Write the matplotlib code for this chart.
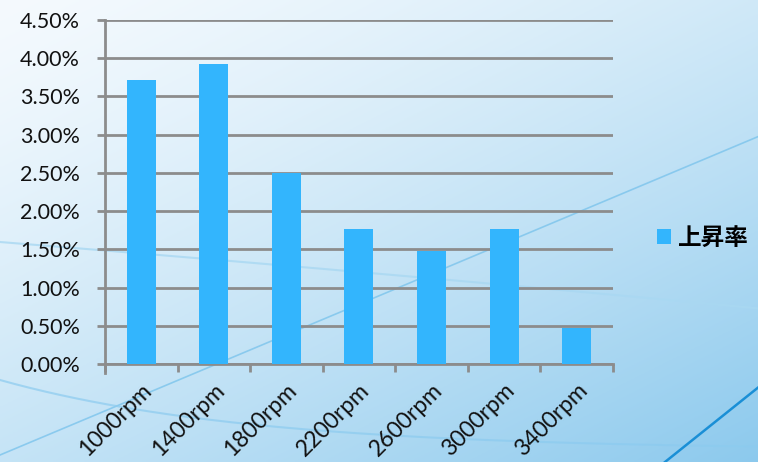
import matplotlib.pyplot as plt
import numpy as np
from matplotlib.ticker import FuncFormatter, FixedLocator

categories = ["1000rpm", "1400rpm", "1800rpm", "2200rpm", "2600rpm", "3000rpm", "3400rpm"]
rise_rate = [3.72, 3.92, 2.50, 1.77, 1.48, 1.77, 0.47]  # percent
series_name = "上昇率"
y_ticks = [0.0, 0.5, 1.0, 1.5, 2.0, 2.5, 3.0, 3.5, 4.0, 4.5]

bar_color = "#33b5fd"
grid_color = "#8c8c8c"

fig = plt.figure(figsize=(7.58, 4.62), dpi=100)

# background: soft blue gradient with a few decorative curves
bg = fig.add_axes([0, 0, 1, 1], zorder=-1)
xx, yy = np.meshgrid(np.linspace(0, 1, 300), np.linspace(0, 1, 200))
t = np.clip(0.45 * xx + 0.55 * yy, 0, 1) ** 1.3
c0 = np.array([0.96, 0.98, 0.995])
c1 = np.array([0.55, 0.79, 0.93])
img = c0[None, None, :] * (1 - t[..., None]) + c1[None, None, :] * t[..., None]
bg.imshow(img, extent=[0, 758, 462, 0], aspect="auto")
cx = np.linspace(0, 758, 200)
bg.plot(cx, 455 - 0.42 * cx, color="#7cc4ec", lw=1.2, alpha=0.8)
bg.plot(cx, 242 + 0.08 * cx + 0.00001 * cx ** 2, color="#a9d8f2", lw=1.5, alpha=0.8)
bg.plot(cx, 380 + 70 * (1 - np.exp(-cx / 250)), color="#8ccbef", lw=1.5, alpha=0.7)
bx = np.linspace(665, 758, 50)
bg.plot(bx, 462 - (bx - 665) * 0.8, color="#1a8fd6", lw=1.8)
bg.set_xlim(0, 758)
bg.set_ylim(462, 0)
bg.axis("off")

ax = fig.add_axes([0.1385, 0.2121, 0.67, 0.7446])
ax.patch.set_alpha(0)
x = np.arange(len(categories))
ax.bar(x, rise_rate, width=0.4, color=bar_color, zorder=3, label=series_name)

ax.set_xlim(-0.5, len(categories) - 0.5)
ax.set_ylim(0, 4.5)
ax.set_yticks(y_ticks)
ax.yaxis.set_major_formatter(FuncFormatter(lambda v, p: f"{v:.2f}%"))
ax.grid(axis="y", color=grid_color, lw=2, zorder=1)

ax.set_xticks(x)
ax.set_xticklabels(categories, rotation=45, ha="right", rotation_mode="anchor",
                   fontsize=16.5, fontfamily="Lato", color="#111111")
ax.xaxis.set_minor_locator(FixedLocator(np.arange(-0.5, len(categories), 1.0)))
ax.tick_params(axis="x", which="major", length=0, pad=11)
ax.tick_params(axis="x", which="minor", length=6, width=2, color=grid_color)
ax.tick_params(axis="y", length=6, width=2, color=grid_color, pad=12,
               labelsize=15.5, labelcolor="#111111")
for lab in ax.get_yticklabels():
    lab.set_fontfamily("Lato")

for side in ["top", "right"]:
    ax.spines[side].set_visible(False)
ax.spines["left"].set_color(grid_color)
ax.spines["left"].set_linewidth(2)
ax.spines["bottom"].set_color(grid_color)
ax.spines["bottom"].set_linewidth(2)
ax.spines["left"].set_bounds(-0.12, 4.5)

leg = fig.legend(loc="center left", bbox_to_anchor=(0.845, 0.485), frameon=False,
                 borderpad=0.2, handlelength=0.6, handleheight=0.6, handletextpad=0.3,
                 prop={"family": ["Noto Sans CJK JP", "DejaVu Sans"], "size": 17, "weight": "bold"})

fig.savefig("out.png", dpi=100)
